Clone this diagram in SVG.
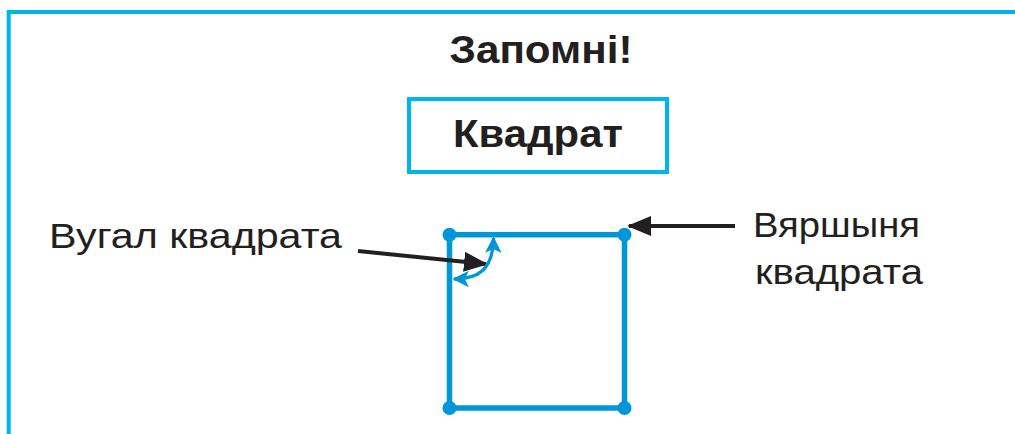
<svg xmlns="http://www.w3.org/2000/svg" width="1015" height="434" viewBox="0 0 1015 434">
<defs>
<style>
.t{font-family:"Liberation Sans",Arial,sans-serif;fill:#231f20}
.b{font-weight:bold;font-size:39px}
.r{font-size:35px}
.sq{stroke:#0096d8;stroke-width:5.5;fill:none}
.dot{fill:#0096d8}
.blk{stroke:#231f20;stroke-width:4;fill:none}
</style>
<marker id="bh" markerWidth="6" markerHeight="5" refX="5.5" refY="2.5" orient="auto" markerUnits="strokeWidth" viewBox="0 0 6 5">
<path d="M0,0 L6,2.5 L0,5 Z" fill="#231f20"/>
</marker>
<marker id="ch" markerWidth="5" markerHeight="5" refX="4.5" refY="2.5" orient="auto-start-reverse" markerUnits="strokeWidth" viewBox="0 0 5 5">
<path d="M0,0 L5,2.5 L0,5 L1.2,2.5 Z" fill="#0096d8"/>
</marker>
</defs>
<rect width="1015" height="434" fill="#ffffff"/>
<g id="frame">
<rect x="8.7" y="12" width="1100" height="500" fill="none" stroke="#00b4ee" stroke-width="4"/>
</g>
<g id="title">
<text class="t b" x="541" y="63" text-anchor="middle" textLength="183" lengthAdjust="spacingAndGlyphs">Запомні!</text>
</g>
<g id="heading">
<rect x="409" y="99" width="258" height="73" fill="none" stroke="#00b4ee" stroke-width="4"/>
<text class="t b" x="538" y="147" text-anchor="middle" textLength="170" lengthAdjust="spacingAndGlyphs">Квадрат</text>
</g>
<g id="square">
<rect class="sq" x="449.5" y="234.7" width="175" height="173.3"/>
<circle class="dot" cx="449.5" cy="234.7" r="7"/>
<circle class="dot" cx="624.5" cy="234.7" r="7"/>
<circle class="dot" cx="449.5" cy="408" r="7"/>
<circle class="dot" cx="624.5" cy="408" r="7"/>
</g>
<g id="label-angle">
<text class="t r" x="49" y="248" textLength="293" lengthAdjust="spacingAndGlyphs">Вугал квадрата</text>
</g>
<g id="label-vertex">
<text class="t r" x="753" y="237" textLength="167" lengthAdjust="spacingAndGlyphs">Вяршыня</text>
<text class="t r" x="755" y="284" textLength="168" lengthAdjust="spacingAndGlyphs">квадрата</text>
</g>
<g id="connectors">
<path class="blk" d="M358,251 L486,264" marker-end="url(#bh)"/>
<path class="blk" d="M735,226 L629,226" marker-end="url(#bh)"/>
<path d="M454,279 C478,279 493,270 493.5,238" fill="none" stroke="#0096d8" stroke-width="3.3" marker-start="url(#ch)" marker-end="url(#ch)"/>
</g>
</svg>
